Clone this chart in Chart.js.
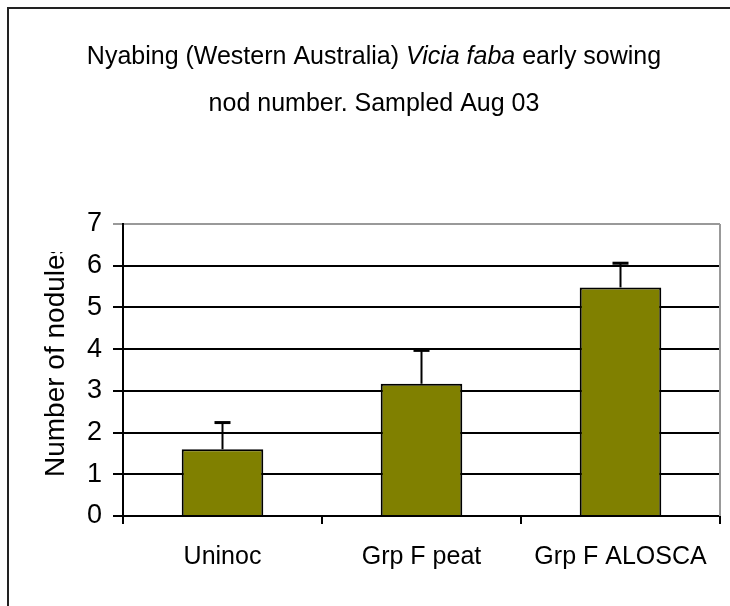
<!DOCTYPE html>
<html>
<head>
<meta charset="utf-8">
<script src="https://cdn.jsdelivr.net/npm/chart.js@4/dist/chart.umd.min.js"></script>
<style>
  html, body { margin: 0; padding: 0; background: #ffffff; }
  #wrap { width: 730px; height: 606px; position: relative; }
</style>
</head>
<body>
<div id="wrap"><canvas id="nodChart" width="730" height="606"></canvas></div>
<script>
// Data
const categories = ["Uninoc", "Grp F peat", "Grp F ALOSCA"];
const nodules = [1.6, 3.17, 5.48];
const errorUp = [0.64, 0.8, 0.58];
const yTicks = [0, 1, 2, 3, 4, 5, 6, 7];
const titleLine1 = [
    { text: "Nyabing (Western Australia) ", italic: false },
    { text: "Vicia faba", italic: true },
    { text: " early sowing", italic: false }
];
const titleLine2 = "nod number. Sampled Aug 03";
const yAxisTitle = "Number of nodules";

const FONT = "'Liberation Sans', Arial, sans-serif";

// frame + title + clipped y title
const decorPlugin = {
    id: "decor",
    beforeDraw(chart) {
        const ctx = chart.ctx;
        ctx.save();
        ctx.fillStyle = "#ffffff";
        ctx.fillRect(0, 0, chart.width, chart.height);
        ctx.strokeStyle = "#222222";
        ctx.lineWidth = 2;
        ctx.beginPath();
        ctx.moveTo(8, chart.height + 5);
        ctx.lineTo(8, 8);
        ctx.lineTo(chart.width + 5, 8);
        ctx.stroke();
        ctx.restore();
    },
    afterDraw(chart) {
        const ctx = chart.ctx;
        ctx.save();
        ctx.fillStyle = "#000000";
        ctx.textBaseline = "alphabetic";
        // title line 1, mixed styles
        const normal = "25px " + FONT;
        const ital = "italic 25px " + FONT;
        let total = 0;
        titleLine1.forEach(p => {
            ctx.font = p.italic ? ital : normal;
            total += ctx.measureText(p.text).width;
        });
        let x = 374 - total / 2;
        titleLine1.forEach(p => {
            ctx.font = p.italic ? ital : normal;
            ctx.fillText(p.text, x, 64);
            x += ctx.measureText(p.text).width;
        });
        ctx.font = normal;
        ctx.textAlign = "center";
        ctx.fillText(titleLine2, 374, 111);

        // y axis title, clipped at the top like the original
        ctx.beginPath();
        ctx.rect(0, 252, 120, 300);
        ctx.clip();
        ctx.translate(64, 477);
        ctx.rotate(-Math.PI / 2);
        ctx.textAlign = "left";
        ctx.textBaseline = "alphabetic";
        ctx.font = "28px " + FONT;
        ctx.fillText(yAxisTitle, 0, 0);
        ctx.restore();
    }
};

// one-sided error bars drawn through the scales
const errorPlugin = {
    id: "errorBars",
    afterDatasetsDraw(chart) {
        const ctx = chart.ctx;
        const xs = chart.scales.x, ys = chart.scales.y;
        ctx.save();
        ctx.strokeStyle = "#000000";
        nodules.forEach((v, i) => {
            const cx = xs.getPixelForValue(i);
            const y0 = ys.getPixelForValue(v);
            const y1 = ys.getPixelForValue(v + errorUp[i]);
            ctx.lineWidth = 2;
            ctx.beginPath();
            ctx.moveTo(cx, y0);
            ctx.lineTo(cx, y1);
            ctx.stroke();
            ctx.lineWidth = 3;
            ctx.beginPath();
            ctx.moveTo(cx - 8, y1);
            ctx.lineTo(cx + 8, y1);
            ctx.stroke();
        });
        ctx.restore();
    }
};

new Chart(document.getElementById("nodChart"), {
    type: "bar",
    data: {
        labels: categories,
        datasets: [{
            data: nodules,
            backgroundColor: "#808000",
            borderColor: "#000000",
            borderWidth: 2,
            barPercentage: 0.41,
            categoryPercentage: 1.0
        }]
    },
    options: {
        responsive: false,
        animation: false,
        layout: { padding: { left: 0, right: 10, top: 224, bottom: 0 } },
        plugins: {
            legend: { display: false },
            tooltip: { enabled: false },
            title: { display: false }
        },
        scales: {
            x: {
                offset: true,
                grid: {
                    offset: true,
                    drawOnChartArea: false,
                    drawTicks: true,
                    tickLength: 8,
                    color: "#000000",
                    lineWidth: 2
                },
                border: { color: "#000000", width: 2 },
                ticks: {
                    color: "#000000",
                    font: { family: FONT, size: 25 },
                    padding: 18,
                    maxRotation: 0
                },
                afterFit: s => { s.height = 90; }
            },
            y: {
                min: 0,
                max: 7,
                afterBuildTicks: s => { s.ticks = yTicks.map(v => ({ value: v })); },
                grid: {
                    color: ctx => ctx.tick && ctx.tick.value === 7 ? "#999999" : "#000000",
                    lineWidth: 2,
                    drawTicks: true,
                    tickLength: 10
                },
                border: { color: "#000000", width: 2 },
                ticks: {
                    color: "#000000",
                    font: { family: FONT, size: 27 },
                    padding: 11
                },
                afterFit: s => { s.width = 123; }
            }
        }
    },
    plugins: [decorPlugin, errorPlugin, {
        id: "rightEdge",
        afterDraw(chart) {
            const a = chart.chartArea, ctx = chart.ctx;
            ctx.save();
            ctx.strokeStyle = "#999999";
            ctx.lineWidth = 2;
            ctx.beginPath();
            ctx.moveTo(a.right, a.top);
            ctx.lineTo(a.right, a.bottom);
            ctx.stroke();
            ctx.restore();
        }
    }]
});
</script>
</body>
</html>
